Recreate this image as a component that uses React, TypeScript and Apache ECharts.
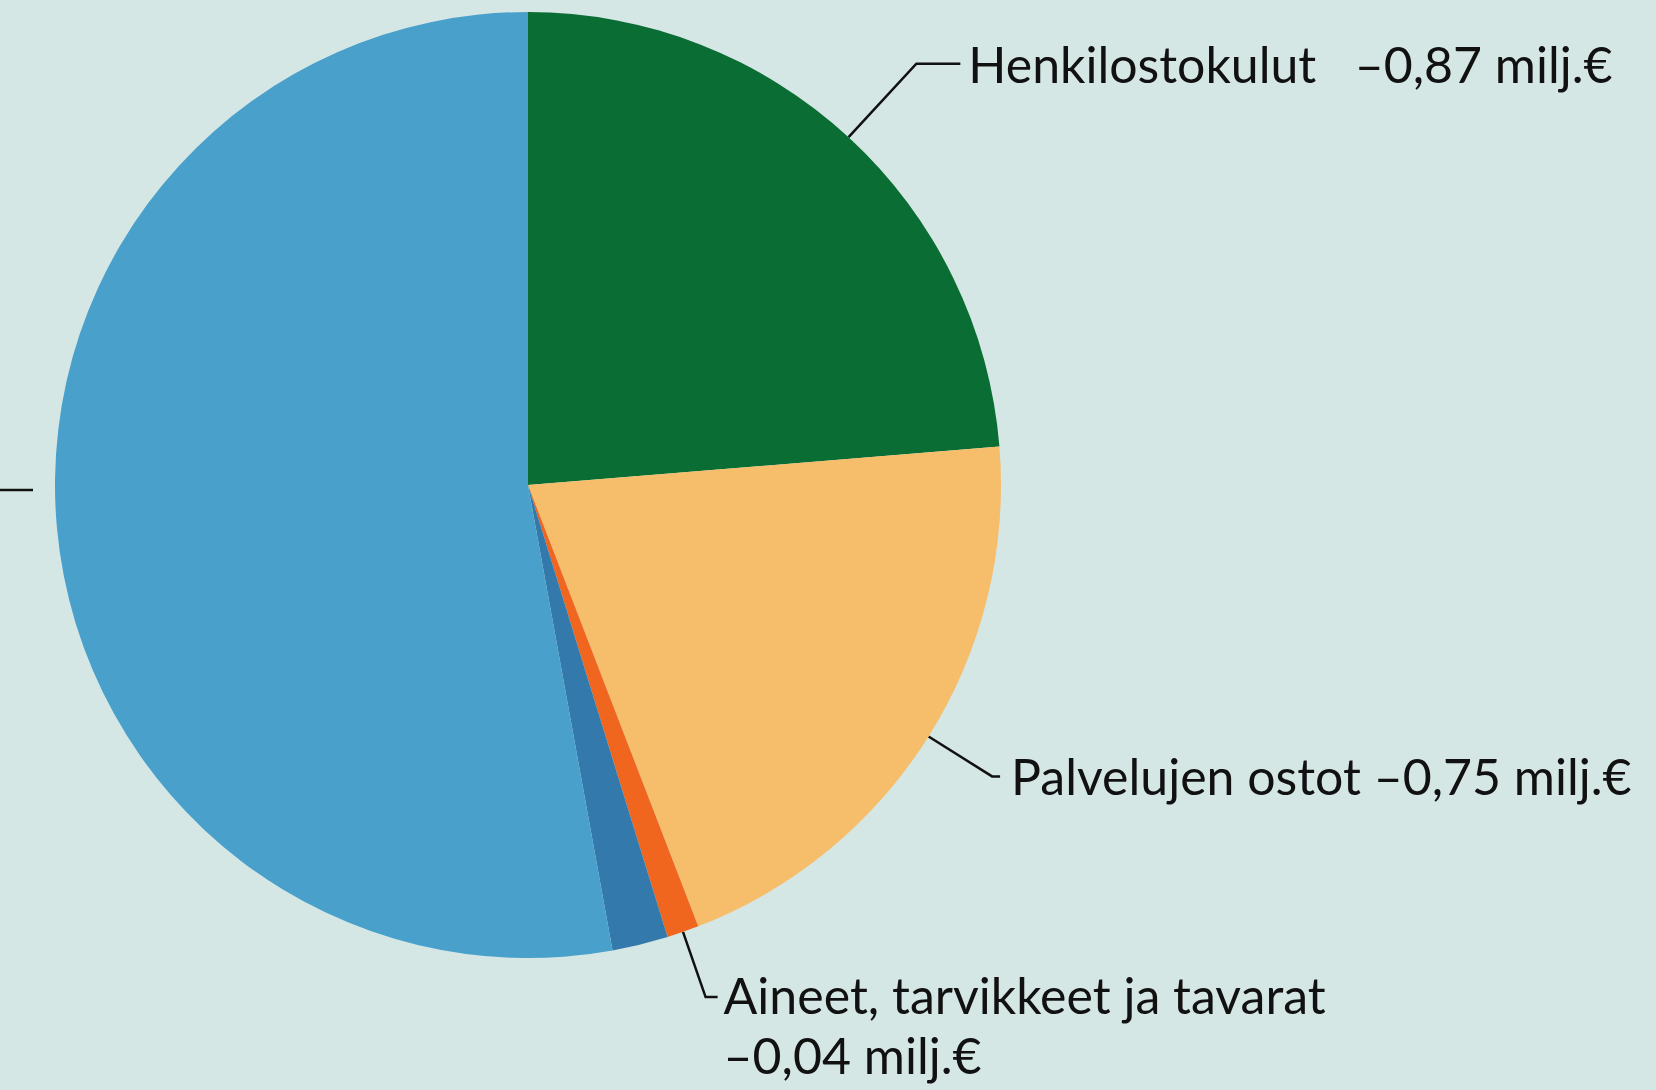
import React, { useEffect, useRef } from "react";
import * as echarts from "echarts";

const categories = [
  "Henkilostokulut",
  "Palvelujen ostot",
  "Aineet, tarvikkeet ja tavarat",
  "Muut kulut",
  "Muut erät",
];
const values = [0.87, 0.75, 0.04, 0.07, 1.94];
const colors = ["#0A6D34", "#F6BD6B", "#F1661F", "#3479AC", "#49A0CB"];
const showLabel = [true, true, true, false, false];
const labelSeparators = ["   ", " ", "\n", " ", " "];

const fmt = (v: number) => "–" + v.toFixed(2).replace(".", ",") + " milj.€";

export default function App() {
  const ref = useRef<HTMLDivElement>(null);
  useEffect(() => {
    document.body.style.margin = "0";
    const chart = echarts.init(ref.current!, null, { renderer: "svg" });
    const lineCfg = [
      { length: 100, length2: 44 },
      { length: 75, length2: 8 },
      { length: 69, length2: 12 },
      { length: 10, length2: 10 },
      { length: 10, length2: 10 },
    ];
    const distances = [8, 11, 6, 5, 5];
    const lineHeights = [69, 69, 60, 69, 69];
    const data = categories.map((name, i) => ({
      name,
      value: values[i],
      itemStyle: { color: colors[i] },
      label: {
        show: showLabel[i],
        distanceToLabelLine: distances[i],
        lineHeight: lineHeights[i],
      },
      labelLine: { show: showLabel[i], ...lineCfg[i] },
    }));
    chart.setOption({
      animation: false,
      backgroundColor: "#D5E7E5",
      graphic: [
        {
          type: "line",
          shape: { x1: 0, y1: 490, x2: 33, y2: 490 },
          style: { stroke: "#111", lineWidth: 2.5 },
        },
      ],
      series: [
        {
          type: "pie",
          left: 0,
          top: 0,
          width: 1656,
          height: 1090,
          center: [528, 485],
          radius: 473,
          startAngle: 90,
          clockwise: true,
          avoidLabelOverlap: false,
          itemStyle: { borderWidth: 0 },
          label: {
            position: "outside",
            fontFamily: "Lato",
            fontSize: 50,
            color: "#111",
            formatter: (p: any) =>
              p.name + labelSeparators[p.dataIndex] + fmt(p.value),
          },
          labelLine: {
            lineStyle: { color: "#111", width: 2.5 },
          },
          labelLayout: (p: any) => (p.dataIndex === 2 ? { dy: 28 } : {}),
          data,
        },
      ],
    });
    return () => chart.dispose();
  }, []);
  return (
    <div
      ref={ref}
      style={{ position: "absolute", left: 0, top: 0, width: 1656, height: 1090 }}
    />
  );
}
